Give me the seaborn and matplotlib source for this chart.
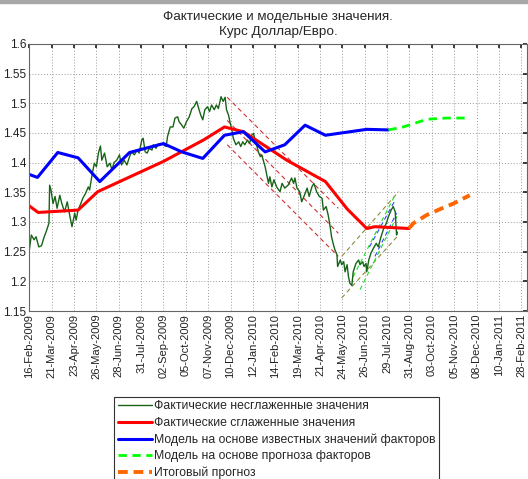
import matplotlib
matplotlib.use("Agg")
import matplotlib.pyplot as plt
import seaborn as sns
import pandas as pd

# days counted from 16-Feb-2009
fact_days = [0, 3, 7, 10, 14, 18, 22, 25, 29, 30, 32, 35, 38, 41, 45, 48, 52, 56, 60, 63,
             67, 69, 72, 76, 79, 83, 87, 89, 93, 96, 99, 102, 105, 107, 111, 115, 119, 122, 125, 129,
             133, 136, 140, 144, 148, 151, 155, 159, 162, 166, 168, 171, 174, 177, 181, 183, 187, 190, 194, 198,
             202, 204, 208, 212, 215, 219, 221, 225, 228, 232, 236, 240, 243, 247, 250, 253, 256, 259, 263, 266,
             269, 273, 276, 279, 283, 286, 289, 291, 294, 296, 299, 301, 305, 309, 312, 315, 318, 322, 325, 328,
             331, 333, 336, 338, 341, 343, 348, 353, 355, 358, 361, 365, 370, 373, 377, 382, 387, 390, 392, 395,
             399, 402, 406, 410, 413, 417, 420, 424, 428, 432, 434, 438, 441, 444, 446, 449, 451, 454, 455, 459,
             461, 464, 466, 469, 471, 473, 476, 478, 482, 486, 488, 492, 494, 497, 498, 501, 504, 508, 512, 515,
             519, 523, 527, 530, 534, 537, 540, 542, 543]
fact_vals = [1.253, 1.278, 1.270, 1.275, 1.258, 1.260, 1.275, 1.284, 1.298, 1.362, 1.354, 1.331, 1.343, 1.323, 1.345, 1.331, 1.317, 1.334, 1.309, 1.292,
             1.315, 1.303, 1.320, 1.331, 1.340, 1.348, 1.359, 1.354, 1.382, 1.399, 1.393, 1.416, 1.428, 1.404, 1.416, 1.393, 1.399, 1.388, 1.400, 1.404,
             1.413, 1.396, 1.404, 1.396, 1.410, 1.418, 1.413, 1.421, 1.416, 1.438, 1.441, 1.418, 1.416, 1.424, 1.421, 1.430, 1.424, 1.431, 1.432, 1.430,
             1.427, 1.444, 1.460, 1.460, 1.475, 1.477, 1.469, 1.463, 1.458, 1.469, 1.477, 1.491, 1.494, 1.503, 1.491, 1.480, 1.472, 1.489, 1.494, 1.486,
             1.497, 1.489, 1.497, 1.491, 1.511, 1.503, 1.510, 1.489, 1.480, 1.469, 1.455, 1.441, 1.430, 1.435, 1.427, 1.435, 1.430, 1.438, 1.432, 1.446,
             1.449, 1.438, 1.427, 1.418, 1.410, 1.413, 1.393, 1.365, 1.376, 1.359, 1.371, 1.359, 1.351, 1.365, 1.357, 1.362, 1.374, 1.365, 1.374, 1.357,
             1.351, 1.334, 1.345, 1.357, 1.343, 1.359, 1.365, 1.351, 1.343, 1.340, 1.320, 1.326, 1.312, 1.292, 1.275, 1.261, 1.253, 1.245, 1.225, 1.236,
             1.228, 1.233, 1.216, 1.228, 1.208, 1.197, 1.193, 1.216, 1.230, 1.236, 1.228, 1.233, 1.225, 1.230, 1.216, 1.236, 1.247, 1.256, 1.264, 1.258,
             1.275, 1.289, 1.298, 1.309, 1.320, 1.326, 1.317, 1.278, 1.283]

smooth_days = [0, 13, 72, 101, 198, 257, 288, 316, 380, 437, 469, 498, 510, 560]
smooth_vals = [1.327, 1.316, 1.320, 1.351, 1.402, 1.438, 1.460, 1.452, 1.404, 1.368, 1.322, 1.289, 1.292, 1.289]

model_days = [0, 12, 42, 72, 104, 148, 198, 225, 256, 288, 316, 348, 377, 407, 437, 498, 530]
model_vals = [1.380, 1.375, 1.417, 1.408, 1.368, 1.417, 1.432, 1.418, 1.407, 1.446, 1.452, 1.418, 1.430, 1.463, 1.446, 1.456, 1.455]

factor_fc_days = [530, 552, 587, 616, 650]
factor_fc_vals = [1.455, 1.460, 1.473, 1.475, 1.475]

final_fc_days = [560, 567, 587, 609, 626, 650]
final_fc_vals = [1.289, 1.298, 1.312, 1.323, 1.331, 1.345]

# trend channels (start/end of each dashed line)
down_days = [292, 456]
down_lines = [[1.510, 1.323], [1.471, 1.281], [1.430, 1.242]]
up_days = [461, 545]
up_lines = [[1.242, 1.351], [1.172, 1.278]]
up_green_days = [[478, 540], [488, 545]]
up_green_lines = [[1.208, 1.346], [1.186, 1.315]]
up_blue_days = [[502, 540], [510, 542]]
up_blue_lines = [[1.258, 1.337], [1.242, 1.315]]

tick_days = [0, 33, 66, 99, 132, 165, 198, 231, 264, 297, 330, 363, 396, 429, 462, 495,
             528, 561, 594, 627, 660, 693, 726]
tick_labels = ["16-Feb-2009", "21-Mar-2009", "23-Apr-2009", "26-May-2009", "28-Jun-2009",
               "31-Jul-2009", "02-Sep-2009", "05-Oct-2009", "07-Nov-2009", "10-Dec-2009",
               "12-Jan-2010", "14-Feb-2010", "19-Mar-2010", "21-Apr-2010", "24-May-2010",
               "26-Jun-2010", "29-Jul-2010", "31-Aug-2010", "03-Oct-2010", "05-Nov-2010",
               "08-Dec-2010", "10-Jan-2011", "28-Feb-2011"]

sns.set_theme(style="white")
plt.rcParams['font.family'] = ['Liberation Sans', 'DejaVu Sans']

fig = plt.figure(figsize=(5.28, 4.79), dpi=100)
ax = fig.add_axes([0.0555, 0.3507, 0.942, 0.5578])

# grey window strip at the very top
fig.patches.append(plt.Rectangle((0, 0.994), 1, 0.006, transform=fig.transFigure,
                                 color='#a8a8a8', zorder=0))

# channel lines first, under the main series
for vals in down_lines:
    sns.lineplot(x=down_days, y=vals, ax=ax, color='#d03030', lw=0.8, linestyle=(0, (4, 3)))
for vals in up_lines:
    sns.lineplot(x=up_days, y=vals, ax=ax, color='#8c8a3c', lw=0.8, linestyle=(0, (4, 3)))
for d, vals in zip(up_green_days, up_green_lines):
    sns.lineplot(x=d, y=vals, ax=ax, color='#22dd22', lw=0.8, linestyle=(0, (4, 3)))
for d, vals in zip(up_blue_days, up_blue_lines):
    sns.lineplot(x=d, y=vals, ax=ax, color='#3344ff', lw=0.8, linestyle=(0, (4, 3)))

sns.lineplot(x=fact_days, y=fact_vals, ax=ax, color='#176317', lw=1.0,
             label="Фактические несглаженные значения")
sns.lineplot(x=smooth_days, y=smooth_vals, ax=ax, color='#ff0000', lw=2.2,
             label="Фактические сглаженные значения")
sns.lineplot(x=model_days, y=model_vals, ax=ax, color='#0000ff', lw=2.2,
             label="Модель на основе известных значений факторов")
sns.lineplot(x=factor_fc_days, y=factor_fc_vals, ax=ax, color='#00ff00', lw=2.0,
             linestyle=(0, (3, 2)), label="Модель на основе прогноза факторов")
sns.lineplot(x=final_fc_days, y=final_fc_vals, ax=ax, color='#ff6600', lw=2.8,
             linestyle=(0, (2.5, 1.5)), label="Итоговый прогноз")

ax.set_xlim(0, 734)
ax.set_ylim(1.15, 1.6)
ax.set_xticks(tick_days)
ax.set_xticklabels(tick_labels, rotation=90, fontsize=8)
ax.set_yticks([1.15, 1.2, 1.25, 1.3, 1.35, 1.4, 1.45, 1.5, 1.55, 1.6])
ax.set_yticklabels(["1.15", "1.2", "1.25", "1.3", "1.35", "1.4", "1.45", "1.5", "1.55", "1.6"], fontsize=8.5)
ax.tick_params(direction='in', length=3, top=True, right=True, pad=2, colors='#222222')
ax.grid(True, linestyle=(0, (1, 2)), color='#999999', lw=0.7)
for s in ax.spines.values():
    s.set_color('#666666')
    s.set_linewidth(0.8)

ax.set_title("Фактические и модельные значения.\nКурс Доллар/Евро.", fontsize=9.7, pad=6,
             linespacing=1.4)

leg = ax.legend(loc='upper left', bbox_to_anchor=(0.216, 0.172), bbox_transform=fig.transFigure,
                fontsize=8.8, frameon=True, fancybox=False, framealpha=1, edgecolor='#333333',
                handlelength=2.8, handletextpad=0.15, labelspacing=0.37, borderpad=0.3,
                borderaxespad=0)
leg.get_frame().set_linewidth(0.8)

fig.savefig("out.png", dpi=100)
